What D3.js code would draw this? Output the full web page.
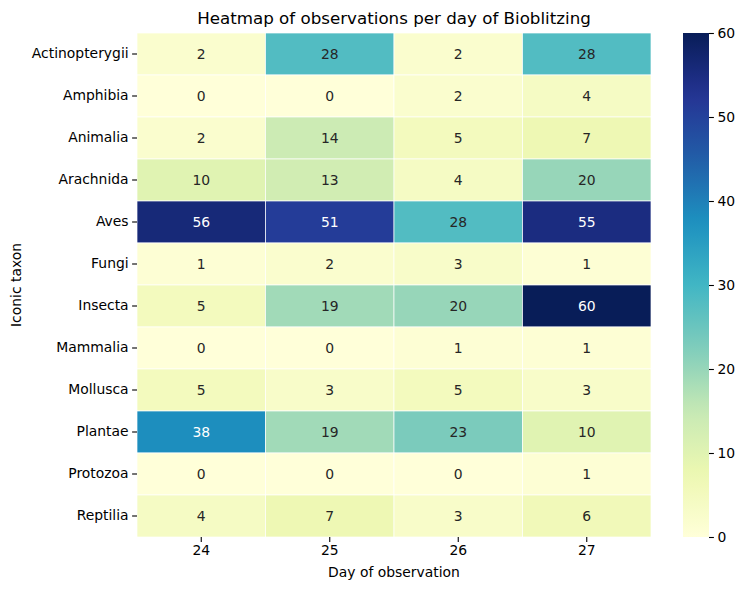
<!DOCTYPE html>
<html>
<head>
<meta charset="utf-8">
<script src="https://cdn.jsdelivr.net/npm/d3@7"></script>
<style>
  body { margin: 0; background: #fff; }
  text { font-family: "DejaVu Sans", sans-serif; }
</style>
</head>
<body>
<div class="svg-container"></div>
<script>
// data
var taxa = ["Actinopterygii", "Amphibia", "Animalia", "Arachnida", "Aves", "Fungi",
            "Insecta", "Mammalia", "Mollusca", "Plantae", "Protozoa", "Reptilia"];
var days = ["24", "25", "26", "27"];
var day24 = [2, 0, 2, 10, 56, 1, 5, 0, 5, 38, 0, 4];
var day25 = [28, 0, 14, 13, 51, 2, 19, 0, 3, 19, 0, 7];
var day26 = [2, 2, 5, 4, 28, 3, 20, 1, 5, 23, 0, 3];
var day27 = [28, 4, 7, 20, 55, 1, 60, 1, 3, 10, 1, 6];
var cbarTicks = [0, 10, 20, 30, 40, 50, 60];

var W = 746, H = 590;
var left = 137, top_ = 33, right = 651, bottom = 537;
var cbX = 683, cbW = 26;

var svg = d3.select(".svg-container").append("svg")
    .attr("width", W).attr("height", H);

var cols = [day24, day25, day26, day27];
var cells = [];
taxa.forEach(function(t, i) {
    days.forEach(function(d, j) {
        cells.push({taxon: t, day: d, value: cols[j][i]});
    });
});

var ylgnbu = ["#ffffd9", "#edf8b1", "#c7e9b4", "#7fcdbb", "#41b6c4", "#1d91c0", "#225ea8", "#253494", "#081d58"];
var color = d3.scaleLinear()
    .domain(d3.range(9).map(function(k) { return k * 60 / 8; }))
    .range(ylgnbu)
    .clamp(true);

var x = d3.scaleBand().domain(days).range([left, right]);
var y = d3.scaleBand().domain(taxa).range([top_, bottom]);

function textColor(v) {
    var c = d3.rgb(color(v));
    function lin(u) { u /= 255; return u <= 0.03928 ? u / 12.92 : Math.pow((u + 0.055) / 1.055, 2.4); }
    var lum = 0.2126 * lin(c.r) + 0.7152 * lin(c.g) + 0.0722 * lin(c.b);
    return lum > 0.408 ? "#262626" : "#ffffff";
}

svg.append("g").selectAll("rect")
    .data(cells).enter().append("rect")
    .attr("x", function(d) { return x(d.day); })
    .attr("y", function(d) { return y(d.taxon); })
    .attr("width", x.bandwidth())
    .attr("height", y.bandwidth())
    .attr("fill", function(d) { return color(d.value); })
    .attr("stroke", "#ffffff")
    .attr("stroke-width", 0.7);

svg.append("g").selectAll("text")
    .data(cells).enter().append("text")
    .attr("x", function(d) { return x(d.day) + x.bandwidth() / 2; })
    .attr("y", function(d) { return y(d.taxon) + y.bandwidth() / 2; })
    .attr("text-anchor", "middle")
    .attr("dominant-baseline", "central")
    .attr("font-size", "13.9px")
    .attr("fill", function(d) { return textColor(d.value); })
    .text(function(d) { return d.value; });

// axes
var xAxis = svg.append("g")
    .attr("transform", "translate(0," + bottom + ")")
    .call(d3.axisBottom(x).tickSize(4.9).tickPadding(3.5));
var yAxis = svg.append("g")
    .attr("transform", "translate(" + left + ",0)")
    .call(d3.axisLeft(y).tickSize(4.9).tickPadding(3.5));
[xAxis, yAxis].forEach(function(a) {
    a.select(".domain").remove();
    a.selectAll("text").attr("font-size", "13.9px").attr("fill", "#000")
        .style("font-family", "DejaVu Sans, sans-serif");
    a.selectAll("line").attr("stroke", "#000").attr("stroke-width", 1.1);
});

svg.append("text")
    .attr("x", (left + right) / 2).attr("y", 577)
    .attr("text-anchor", "middle").attr("font-size", "13.9px")
    .text("Day of observation");

svg.append("text")
    .attr("transform", "translate(21," + ((top_ + bottom) / 2) + ") rotate(-90)")
    .attr("text-anchor", "middle").attr("font-size", "13.9px")
    .text("Iconic taxon");

svg.append("text")
    .attr("x", (left + right) / 2).attr("y", 24)
    .attr("text-anchor", "middle").attr("font-size", "16.7px")
    .text("Heatmap of observations per day of Bioblitzing");

// colorbar
var defs = svg.append("defs");
var grad = defs.append("linearGradient").attr("id", "cbgrad")
    .attr("x1", 0).attr("y1", 1).attr("x2", 0).attr("y2", 0);
d3.range(0, 61, 2).forEach(function(v) {
    grad.append("stop").attr("offset", v / 60).attr("stop-color", color(v));
});
svg.append("rect")
    .attr("x", cbX).attr("y", top_)
    .attr("width", cbW).attr("height", bottom - top_)
    .attr("fill", "url(#cbgrad)");

var cbScale = d3.scaleLinear().domain([0, 60]).range([bottom, top_]);
var cbAxis = svg.append("g")
    .attr("transform", "translate(" + (cbX + cbW) + ",0)")
    .call(d3.axisRight(cbScale).tickValues(cbarTicks).tickSize(4.9).tickPadding(3.5));
cbAxis.select(".domain").remove();
cbAxis.selectAll("text").attr("font-size", "13.9px").attr("fill", "#000")
    .style("font-family", "DejaVu Sans, sans-serif");
cbAxis.selectAll("line").attr("stroke", "#000").attr("stroke-width", 1.1);
</script>
</body>
</html>
